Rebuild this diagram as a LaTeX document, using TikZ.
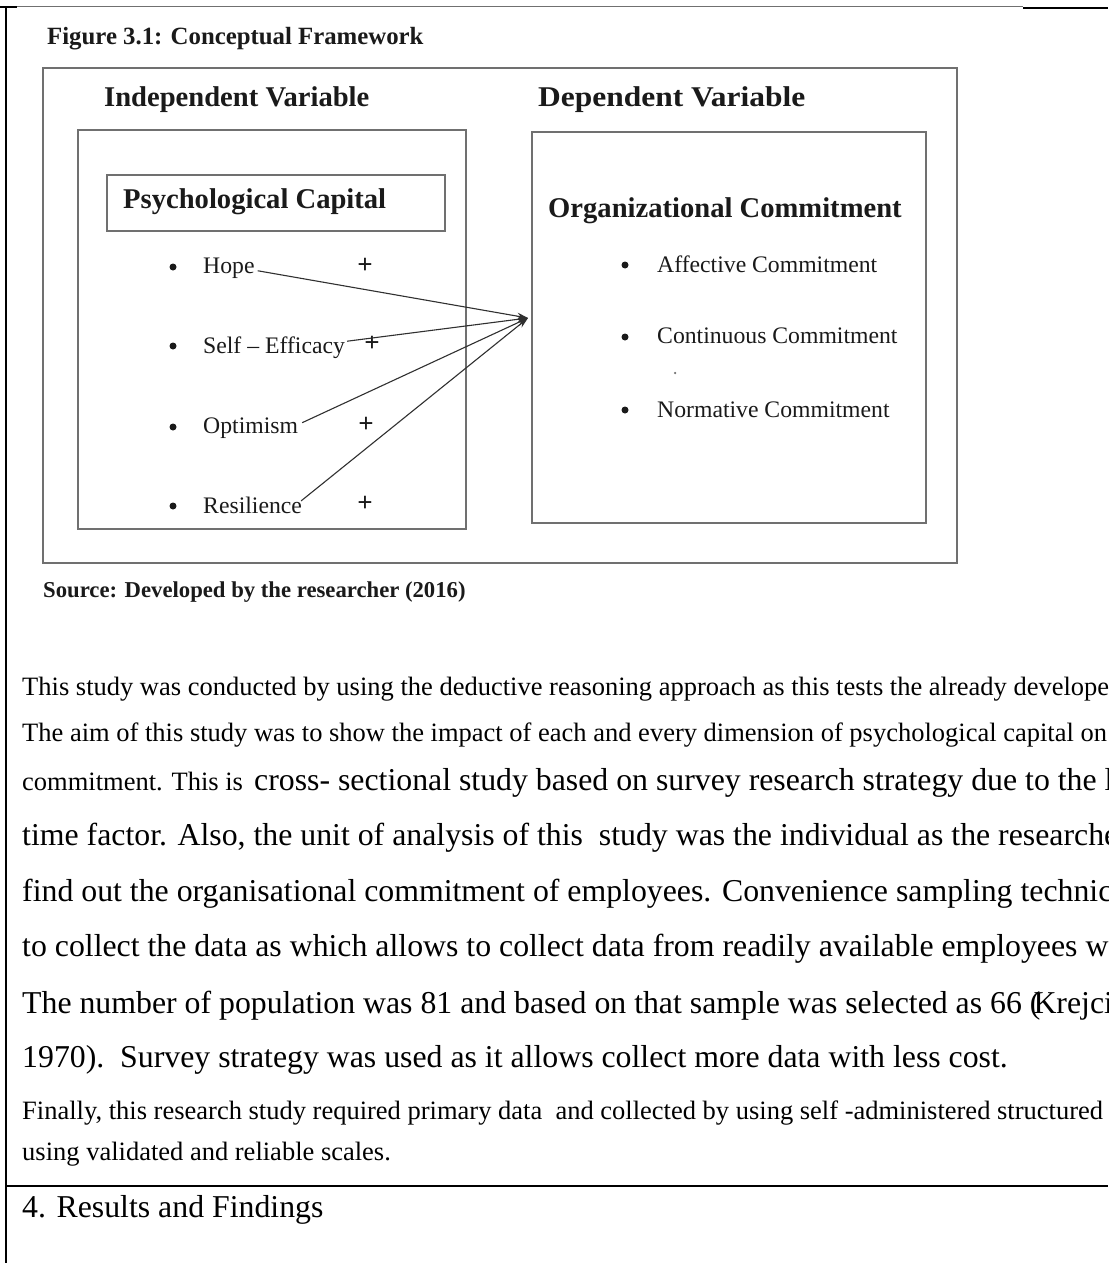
\documentclass[tikz,border=0pt]{standalone}
\usepackage{fontspec}
\setmainfont{Liberation Serif}
\usetikzlibrary{arrows.meta}
\definecolor{boxgray}{HTML}{707070}
\definecolor{arrgray}{HTML}{303030}
\definecolor{ink}{HTML}{1A1A1A}
\tikzset{
  txt/.style={inner sep=0pt, anchor=base west, text=black},
  smalltxt/.style={txt, font=\fontsize{26.5}{30}\selectfont},
  bigtxt/.style={txt, font=\fontsize{31.8}{36}\selectfont},
  headtxt/.style={inner sep=0pt, anchor=base west, text=ink, font=\bfseries\fontsize{28.6}{32}\selectfont},
  itemtxt/.style={inner sep=0pt, anchor=base west, text=ink, font=\fontsize{23.7}{26}\selectfont},
  boxline/.style={draw=boxgray, line width=2pt},
  bul/.style={circle, fill=ink, inner sep=0pt, minimum size=7pt},
  plussign/.style={inner sep=0pt, text=ink, font=\bfseries\fontsize{27}{27}\selectfont},
  conn/.style={draw=arrgray, line width=1.1pt, -{Stealth[length=11pt,width=7pt]}},
  rule/.style={draw=black, line width=2.2pt}
}
\begin{document}
\begin{tikzpicture}[x=1pt,y=-1pt]
\useasboundingbox (0,0) rectangle (1108,1263);
\fill[white] (0,0) rectangle (1108,1263);
% page rules
\draw[rule] (0,7) -- (17,7);
\draw[draw=boxgray, line width=1pt] (17,7) -- (1023,7);
\draw[rule] (1023,8) -- (1108,8);
\draw[rule] (6,7) -- (6,1263);
\draw[rule] (6,1186) -- (1108,1186);

% caption
\node[inner sep=0pt, anchor=base west, text=ink, font=\bfseries\fontsize{24.8}{28}\selectfont] (cap) at (47,45) {Figure 3.1: Conceptual Framework};

% boxes
\draw[boxline] (43,68) rectangle (957,563);
\draw[boxline] (78,130) rectangle (466,529);
\draw[boxline] (107,175) rectangle (445,231);
\draw[boxline] (532,132) rectangle (926,523);

% headings
\node[headtxt] (indep) at (104,106) {Independent Variable};
\node[headtxt] (dep) at (538,106) {\scalebox{1.1}[1]{Dependent Variable}};
\node[headtxt] (psycap) at (123,208) {Psychological Capital};
\node[headtxt] (orgcom) at (548,217) {Organizational Commitment};

% left items
\node[bul] (b1) at (173,267) {};
\node[bul] (b2) at (173,346) {};
\node[bul] (b3) at (173,427) {};
\node[bul] (b4) at (173,506) {};
\node[itemtxt] (hope) at (203,273) {Hope};
\node[itemtxt] (selfeff) at (203,353) {Self -- Efficacy};
\node[itemtxt] (optim) at (203,433) {Optimism};
\node[itemtxt] (resil) at (203,513) {Resilience};
\node[plussign] (pl1) at (365,266) {+};
\node[plussign] (pl2) at (372,344) {+};
\node[plussign] (pl3) at (366,425) {+};
\node[plussign] (pl4) at (365,504) {+};

% right items
\node[bul] (r1) at (625,265) {};
\node[bul] (r2) at (625,337) {};
\node[bul] (r3) at (625,410) {};
\node[itemtxt] (affc) at (657,272) {Affective Commitment};
\node[itemtxt] (contc) at (657,343) {Continuous Commitment};
\node[itemtxt] (normc) at (657,417) {Normative Commitment};
\node[circle, fill=boxgray, inner sep=0pt, minimum size=2.5pt] (stray) at (675,373) {};

% connectors
\coordinate (hub) at (528,318);
\draw[conn] ([shift={(3,3)}]hope.east) -- (hub);
\draw[conn] ([shift={(2,-6)}]selfeff.east) -- (hub);
\draw[conn] ([shift={(4,-5)}]optim.east) -- (hub);
\draw[conn] ([shift={(-1,-4)}]resil.east) -- (hub);

% source
\node[inner sep=0pt, anchor=base west, text=ink, font=\bfseries\fontsize{22.7}{26}\selectfont] (src) at (43,597) {Source: Developed by the researcher (2016)};

% paragraph
\node[smalltxt] (p1) at (22,695) {This study was conducted by using the deductive reasoning approach as this tests the already develope};
\node[smalltxt] (p2) at (22,741) {The aim of this study was to show the impact of each and every dimension of psychological capital on};
\node[smalltxt] (p3a) at (22,790) {commitment. This is};
\node[bigtxt] (p3b) at (254,790) {cross- sectional study based on survey research strategy due to the l};
\node[bigtxt] (p4) at (22,845) {time factor. Also, the unit of analysis of this\ \ study was the individual as the researche};
\node[bigtxt] (p5) at (22,901) {find out the organisational commitment of employees. Convenience sampling technic};
\node[bigtxt] (p6) at (22,956) {to collect the data as which allows to collect data from readily available employees w};
\node[bigtxt] (p7) at (22,1013) {The number of population was 81 and based on that sample was selected as 66 (\kern-0.22em Krejci};
\node[bigtxt] (p8) at (22,1067) {1970).\ \ Survey strategy was used as it allows collect more data with less cost.};
\node[smalltxt] (p9) at (22,1119) {Finally, this research study required primary data\ \ and collected by using self -administered structured};
\node[smalltxt] (p10) at (22,1160) {using validated and reliable scales.};
\node[bigtxt] (results) at (22,1217) {4. Results and Findings};
\end{tikzpicture}
\end{document}
